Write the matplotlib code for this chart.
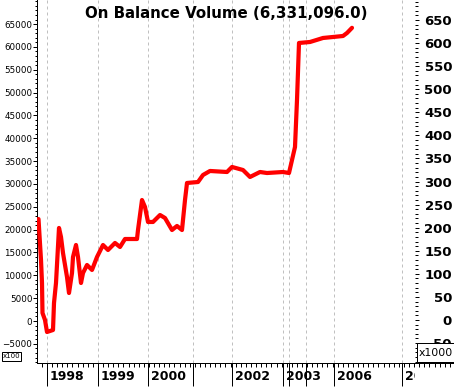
import numpy as np
import matplotlib
matplotlib.use("Agg")
import matplotlib.pyplot as plt
from matplotlib.patches import Rectangle
from matplotlib.ticker import MultipleLocator, FixedLocator
from matplotlib.transforms import Bbox, TransformedBbox

# ---- data (OBV in units of 100 shares, x = bar index) ----
bar = [1.5, 4, 5, 5.5, 8, 10, 16, 17, 19, 22, 24, 26, 30, 32, 35, 36, 39, 41, 44, 46,
       50, 55, 60, 66, 71, 78, 83, 88, 100, 101, 105, 108, 111, 116, 123, 128, 135, 140,
       145, 148, 150, 161, 166, 173, 190, 195, 206, 213, 223, 230, 246, 252, 258, 260,
       262, 273, 286, 306, 310, 315]
obv = [21880, 13000, 8020, 1520, 0, -2600, -2170, 3680, 8020, 19940, 17990, 14520, 9320,
       5850, 10180, 13650, 16250, 13650, 8020, 10180, 11920, 10840, 13650, 16250, 15170,
       16690, 15820, 17550, 17550, 19500, 26000, 24490, 21240, 21240, 22750, 22100, 19500,
       20370, 19500, 26000, 29690, 29900, 31420, 32290, 32070, 33160, 32500, 30990, 32070,
       31850, 32070, 31850, 37490, 47670, 60030, 60240, 61110, 61540, 62190, 63310.96]

year_pos = [10, 61, 111, 156, 195, 246, 252, 269, 297, 365]
year_lbl = ["1998", "1999", "2000", "", "2002", "2003", "", "", "2006", "2007"]
left_ticks = list(range(-5000, 65001, 5000))

W, H = 454, 387
fig = plt.figure(figsize=(W / 100, H / 100), dpi=100)
px = lambda v: v * 72 / 100  # pixels -> points

L, B = 37, 363
ax = fig.add_axes([L / W, (H - B) / H, (W - L) / W, B / H])
ax.set_xlim(0, W - L)
ax.set_ylim(-9194, 70270)
for s in ("top", "right"):
    ax.spines[s].set_visible(False)
for s in ("left", "bottom"):
    ax.spines[s].set_linewidth(px(1))

# left axis
ax.yaxis.set_major_locator(FixedLocator(left_ticks))
ax.yaxis.set_minor_locator(MultipleLocator(1000))
ax.tick_params(axis="y", which="major", length=px(4), width=px(1), pad=0.5,
               labelsize=6.3, direction="out")
ax.tick_params(axis="y", which="minor", length=px(2), width=px(1), direction="out")

# bottom axis
ax.xaxis.set_major_locator(FixedLocator(year_pos))
ax.xaxis.set_minor_locator(FixedLocator(np.arange(-0.2, W - L, 5.1)))
ax.tick_params(axis="x", which="major", length=px(23), width=px(1), labelbottom=False)
ax.tick_params(axis="x", which="minor", length=px(4), width=px(1))
ax.grid(axis="x", which="major", color="#c0c0c0", linestyle=(0, (3, 3)), linewidth=px(1))

clip = TransformedBbox(Bbox([[0, 0], [415 / W, 1]]), fig.transFigure)
for p, t in zip(year_pos, year_lbl):
    if t:
        a = ax.annotate(t, xy=(p, 0), xycoords=("data", "axes fraction"),
                        xytext=(3, -13), textcoords="offset pixels",
                        ha="left", va="center", fontsize=9, fontweight="bold",
                        annotation_clip=False)
        a.set_clip_box(clip)
        a.set_clip_on(True)

# right axis (x10000 units)
axr = ax.twinx()
axr.set_ylim(-93.2, 693.4)
for s in axr.spines.values():
    s.set_visible(False)
axr.spines["right"].set_position(("axes", (415 - L) / (W - L)))
axr.yaxis.set_major_locator(MultipleLocator(50))
axr.yaxis.set_minor_locator(MultipleLocator(10))
axr.tick_params(axis="y", which="major", length=px(4), width=px(1), pad=px(33),
                labelsize=9.5, direction="out")
axr.tick_params(axis="y", which="minor", length=px(3), width=px(1), direction="out")
for lab in axr.get_yticklabels():
    lab.set_horizontalalignment("right")
    lab.set_fontweight("bold")

axr.plot(bar, np.array(obv) / 100, color="#ff0000", linewidth=px(4.2),
         solid_joinstyle="round", solid_capstyle="round")

# title
fig.text(226 / W, 1 - 13 / H, f"On Balance Volume ({obv[-1] * 100:,.1f})",
         ha="center", va="center", fontsize=10.8, fontweight="bold")

# multiplier boxes
fig.patches.append(Rectangle((417 / W, (H - 362) / H), 40 / W, 19 / H,
                             transform=fig.transFigure, facecolor="white",
                             edgecolor="black", linewidth=px(1), zorder=5))
fig.text(419 / W, 1 - 353 / H, "x1000", ha="left", va="center", fontsize=7.8, zorder=6)
fig.patches.append(Rectangle((2 / W, (H - 361) / H), 19 / W, 9 / H,
                             transform=fig.transFigure, facecolor="white",
                             edgecolor="black", linewidth=px(1), zorder=5))
fig.text(3 / W, 1 - 356 / H, "x100", ha="left", va="center", fontsize=5, zorder=6)

fig.savefig("out.png", dpi=100)
